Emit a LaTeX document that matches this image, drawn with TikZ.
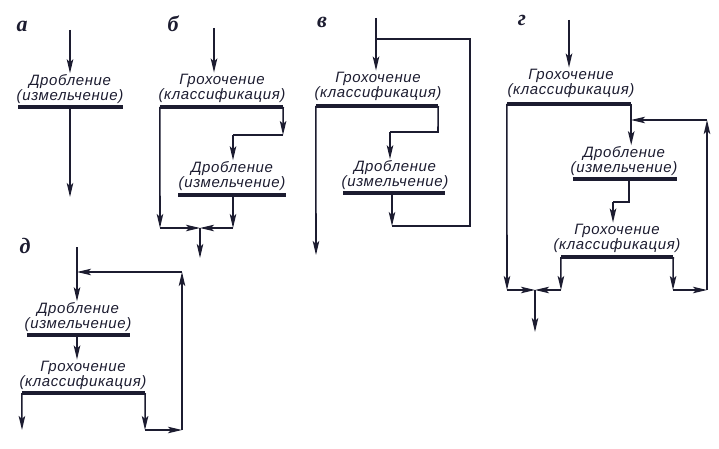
\documentclass[tikz,border=0pt]{standalone}
\usepackage{fontspec}
\setmainfont{Liberation Sans}
\newfontfamily\tagfont{Liberation Serif}
\usetikzlibrary{arrows.meta}

\definecolor{inkc}{RGB}{28,28,48}
\tikzset{
  ink/.style={draw=inkc, line width=1.6pt},
  flow/.style={ink, -{Stealth[length=14pt,width=6.5pt,inset=3pt]}},
  txt/.style={align=center, text=inkc, inner sep=1pt,
    font=\itshape\fontsize{15}{15}\selectfont\addfontfeature{LetterSpace=4}},
  bar/.style={fill=inkc, minimum height=4.5pt, inner sep=0pt},
  tag/.style={text=inkc, font=\tagfont\bfseries\itshape\fontsize{22}{22}\selectfont},
}

\begin{document}
\begin{tikzpicture}[x=1pt, y=-1pt]
  \useasboundingbox (0,0) rectangle (719,449);
  % a
  \node[tag] (ta) at (22,26) {а};
  \coordinate (a0) at (70,30);
  \node[txt] (a1) at (70,89) {Дробление\\(измельчение)};
  \node[bar, minimum width=105pt] (a1b) at (70,107) {};
  \coordinate (a2) at (70,197);
  \draw[flow] (a0) -- (a0 |- a1.north);
  \draw[flow] (a1b) -- (a2);
  % b
  \node[tag] (tb) at (173,24) {б};
  \coordinate (b0) at (214,28);
  \node[txt] (b1) at (222,88) {Грохочение\\(классификация)};
  \node[bar, minimum width=123pt] (b1b) at (221.5,107) {};
  \coordinate (br1) at (283,135);
  \coordinate (br2) at (233,135);
  \node[txt] (b2) at (232,176) {Дробление\\(измельчение)};
  \node[bar, minimum width=108pt] (b2b) at (232,195) {};
  \coordinate (br3) at (233,228);
  \coordinate (bl) at (160,228);
  \coordinate (bj) at (200,228);
  \coordinate (bo) at (200,258);
  \draw[flow] (b0) -- (b0 |- b1.north);
  \draw[flow] (b1b.west) -- (bl);
  \draw[flow] (bl) -- (bj);
  \draw[flow] (b1b.east) -- (br1);
  \draw[ink] (br1) -- (br2);
  \draw[flow] (br2) -- (br2 |- b2.north);
  \draw[flow] (br2 |- b2b.south) -- (br3);
  \draw[flow] (br3) -- (bj);
  \draw[flow] (bj) -- (bo);
  % v
  \node[tag] (tv) at (322,22) {в};
  \coordinate (v0) at (376,18);
  \coordinate (vj) at (376,39);
  \node[txt] (v1) at (378,86) {Грохочение\\(классификация)};
  \node[bar, minimum width=122pt] (v1b) at (377,106) {};
  \coordinate (vl) at (316,255);
  \coordinate (vr1) at (438,132);
  \coordinate (vr2) at (390,132);
  \node[txt] (v2) at (395,175) {Дробление\\(измельчение)};
  \node[bar, minimum width=102pt] (v2b) at (394,193) {};
  \coordinate (vr3) at (392,226);
  \coordinate (vr4) at (470,226);
  \coordinate (vr5) at (470,39);
  \draw[ink] (v0) -- (vj);
  \draw[flow] (vj) -- (vj |- v1.north);
  \draw[flow] (v1b.west) -- (vl);
  \draw[ink] (v1b.east) -- (vr1) -- (vr2);
  \draw[flow] (vr2) -- (vr2 |- v2.north);
  \draw[flow] (vr3 |- v2b.south) -- (vr3);
  \draw[ink] (vr3) -- (vr4) -- (vr5) -- (vj);
  % g
  \node[tag] (tg) at (522,20) {г};
  \coordinate (g0) at (569,20);
  \node[txt] (g1) at (571,83) {Грохочение\\(классификация)};
  \node[bar, minimum width=124pt] (g1b) at (569,104) {};
  \node[txt] (g2) at (624,161) {Дробление\\(измельчение)};
  \node[bar, minimum width=104pt] (g2b) at (625,179) {};
  \coordinate (gc1) at (629,202);
  \coordinate (gc2) at (613,202);
  \node[txt] (g3) at (617,238) {Грохочение\\(классификация)};
  \node[bar, minimum width=112pt] (g3b) at (617,257) {};
  \coordinate (gl) at (507,290);
  \coordinate (gj) at (535,290);
  \coordinate (gm) at (561,290);
  \coordinate (gr2) at (673,290);
  \coordinate (gr3) at (707,290);
  \coordinate (gr4) at (707,120);
  \coordinate (gr5) at (631,120);
  \coordinate (go) at (535,332);
  \draw[flow] (g0) -- (g0 |- g1.north);
  \draw[flow] (g1b.west) -- (gl);
  \draw[flow] (gl) -- (gj);
  \draw[flow] (g1b.east) -- (g1b.east |- g2.north);
  \draw[ink] (gc1 |- g2b.south) -- (gc1) -- (gc2);
  \draw[flow] (gc2) -- (gc2 |- g3.north);
  \draw[flow] (g3b.west) -- (gm);
  \draw[flow] (gm) -- (gj);
  \draw[flow] (g3b.east) -- (gr2);
  \draw[flow] (gr2) -- (gr3);
  \draw[flow] (gr3) -- (gr4);
  \draw[flow] (gr4) -- (gr5);
  \draw[flow] (gj) -- (go);
  % d
  \node[tag] (td) at (25,246) {д};
  \coordinate (d0) at (77,247);
  \coordinate (dj) at (77,272);
  \node[txt] (d1) at (78,317) {Дробление\\(измельчение)};
  \node[bar, minimum width=103pt] (d1b) at (78,335) {};
  \node[txt] (d2) at (83,375) {Грохочение\\(классификация)};
  \node[bar, minimum width=123pt] (d2b) at (83.5,393) {};
  \coordinate (dl) at (22,430);
  \coordinate (dr1) at (145,430);
  \coordinate (dr2) at (182,430);
  \coordinate (dr3) at (182,272);
  \draw[ink] (d0) -- (dj);
  \draw[flow] (dj) -- (dj |- d1.north);
  \draw[flow] (dj |- d1b.south) -- (dj |- d2.north);
  \draw[flow] (d2b.west) -- (dl);
  \draw[flow] (d2b.east) -- (dr1);
  \draw[flow] (dr1) -- (dr2);
  \draw[flow] (dr2) -- (dr3);
  \draw[flow] (dr3) -- (dj);
\end{tikzpicture}
\end{document}
